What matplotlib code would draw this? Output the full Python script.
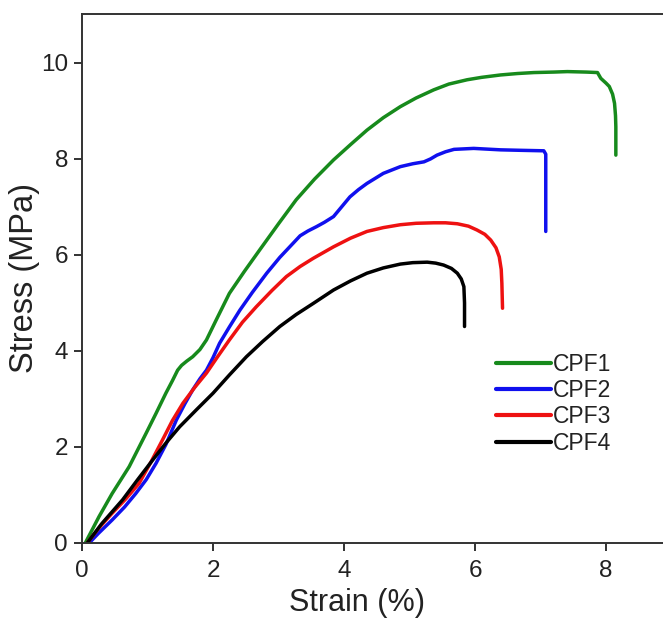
import matplotlib
matplotlib.use("Agg")
import matplotlib.pyplot as plt

plt.rcParams['font.family'] = ['Liberation Sans', 'DejaVu Sans']

# Stress-strain curves (strain in %, stress in MPa)
strain_cpf1 = [0.05, 0.26, 0.46, 0.72, 0.98, 1.13, 1.28, 1.38, 1.46, 1.52, 1.60, 1.69,
               1.80, 1.90, 2.05, 2.25, 2.48, 2.71, 3.00, 3.27, 3.55, 3.84, 4.10, 4.35,
               4.60, 4.86, 5.10, 5.37, 5.60, 5.88, 6.10, 6.39, 6.65, 6.90, 7.20, 7.41,
               7.70, 7.87, 7.92, 8.00, 8.05, 8.10, 8.13, 8.145, 8.15, 8.15]
stress_cpf1 = [0.00, 0.55, 1.03, 1.59, 2.29, 2.70, 3.12, 3.38, 3.60, 3.70, 3.79, 3.88,
               4.03, 4.23, 4.65, 5.20, 5.66, 6.10, 6.65, 7.15, 7.58, 7.98, 8.30, 8.60,
               8.86, 9.09, 9.27, 9.44, 9.56, 9.65, 9.70, 9.75, 9.78, 9.80, 9.81, 9.82,
               9.81, 9.80, 9.68, 9.58, 9.51, 9.35, 9.16, 8.90, 8.67, 8.08]

strain_cpf2 = [0.11, 0.25, 0.46, 0.65, 0.82, 0.98, 1.13, 1.28, 1.44, 1.57, 1.69, 1.80,
               1.90, 2.00, 2.10, 2.25, 2.41, 2.60, 2.82, 3.02, 3.22, 3.33, 3.45, 3.58,
               3.70, 3.84, 3.95, 4.09, 4.22, 4.35, 4.60, 4.86, 5.05, 5.22, 5.32, 5.42,
               5.55, 5.68, 5.98, 6.39, 6.70, 7.05, 7.08, 7.08]
stress_cpf2 = [0.00, 0.20, 0.48, 0.75, 1.03, 1.32, 1.66, 2.05, 2.56, 2.90, 3.19, 3.42,
               3.60, 3.86, 4.16, 4.50, 4.85, 5.22, 5.62, 5.95, 6.24, 6.40, 6.50, 6.59,
               6.68, 6.80, 6.98, 7.21, 7.36, 7.49, 7.70, 7.84, 7.90, 7.94, 8.00, 8.08,
               8.15, 8.20, 8.22, 8.19, 8.18, 8.17, 8.10, 6.49]

strain_cpf3 = [0.08, 0.25, 0.46, 0.67, 0.87, 1.05, 1.23, 1.38, 1.54, 1.72, 1.90, 2.07,
               2.25, 2.45, 2.66, 2.90, 3.12, 3.33, 3.53, 3.84, 4.10, 4.35, 4.60, 4.86,
               5.10, 5.37, 5.55, 5.73, 5.90, 6.03, 6.15, 6.24, 6.32, 6.37, 6.40, 6.41,
               6.42]
stress_cpf3 = [0.00, 0.30, 0.62, 0.92, 1.24, 1.68, 2.15, 2.55, 2.91, 3.24, 3.54, 3.88,
               4.23, 4.60, 4.92, 5.26, 5.55, 5.76, 5.93, 6.17, 6.35, 6.49, 6.57, 6.63,
               6.66, 6.67, 6.67, 6.65, 6.60, 6.52, 6.43, 6.31, 6.15, 5.96, 5.70, 5.41,
               4.89]

strain_cpf4 = [0.08, 0.30, 0.62, 0.85, 1.08, 1.28, 1.49, 1.75, 2.00, 2.25, 2.51, 2.76,
               3.02, 3.27, 3.53, 3.84, 4.10, 4.35, 4.60, 4.86, 5.05, 5.27, 5.40, 5.52,
               5.64, 5.73, 5.79, 5.83, 5.84, 5.84]
stress_cpf4 = [0.00, 0.40, 0.90, 1.32, 1.73, 2.08, 2.42, 2.78, 3.12, 3.50, 3.88, 4.20,
               4.51, 4.76, 4.99, 5.27, 5.46, 5.62, 5.73, 5.81, 5.84, 5.85, 5.83, 5.79,
               5.72, 5.62, 5.50, 5.34, 5.00, 4.51]

labels = ["CPF1", "CPF2", "CPF3", "CPF4"]
colors = ["#178a1c", "#1010ee", "#ee1111", "#000000"]
x_ticks = [0, 2, 4, 6, 8]
y_ticks = [0, 2, 4, 6, 8, 10]

text_color = "#222222"

fig = plt.figure(figsize=(6.63, 6.19), dpi=100)
ax = fig.add_axes([0.1237, 0.1228, 0.8763, 0.8546])

series = [(strain_cpf1, stress_cpf1), (strain_cpf2, stress_cpf2),
          (strain_cpf3, stress_cpf3), (strain_cpf4, stress_cpf4)]
for (xs, ys), lab, col in zip(series, labels, colors):
    ax.plot(xs, ys, color=col, lw=2.5, label=lab, solid_joinstyle='round',
            solid_capstyle='round')

ax.set_xlim(0, 8.87)
ax.set_ylim(0, 11.02)
ax.set_xticks(x_ticks)
ax.set_yticks(y_ticks)
ax.tick_params(direction='out', length=6, width=1.3, labelsize=17.5,
               colors=text_color)
ax.tick_params(axis='x', pad=6)
ax.tick_params(axis='y', pad=4)
ax.spines['right'].set_visible(False)
for s in ['left', 'bottom', 'top']:
    ax.spines[s].set_linewidth(1.4)
    ax.spines[s].set_color('#333333')

ax.set_xlabel("Strain (%)", fontsize=22, color=text_color)
ax.xaxis.set_label_coords(0.473, -0.085, transform=ax.transAxes)
ax.xaxis.label.set_verticalalignment('top')
ax.set_ylabel("Stress (MPa)", fontsize=23.5, color=text_color, labelpad=1)

leg = ax.legend(loc='upper left', bbox_to_anchor=(0.7126, 0.360), frameon=False,
                fontsize=16.5, handlelength=2.4, handletextpad=0.1,
                labelspacing=0.15, borderaxespad=0, borderpad=0)
for line in leg.get_lines():
    line.set_linewidth(3)
for t in leg.get_texts():
    t.set_color(text_color)

fig.savefig("out.png", dpi=100)
